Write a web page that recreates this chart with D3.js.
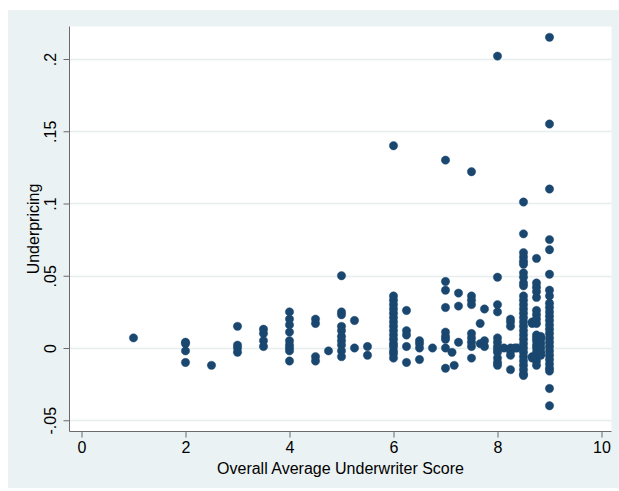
<!DOCTYPE html>
<html>
<head>
<meta charset="utf-8">
<script src="https://cdn.jsdelivr.net/npm/d3@7"></script>
<style>
  html, body { margin: 0; padding: 0; background: #ffffff; }
  svg { display: block; }
  text { font-family: "Liberation Sans", Arial, Helvetica, sans-serif; fill: #000; }
</style>
</head>
<body>
<svg id="chart" width="619" height="491"></svg>
<script>
// ---- data ----
const scores = [1, 2, 2.5, 3, 3.5, 4, 4.5, 4.75, 5, 5.25, 5.5, 6, 6.25, 6.5, 6.75,
                7, 7.125, 7.167, 7.25, 7.5, 7.667, 7.75, 8, 8.125, 8.25, 8.333, 8.375,
                8.5, 8.667, 8.75, 8.833, 9];
const underpricing = [
  [0.007],
  [0.004, 0.003, -0.002, -0.010],
  [-0.012],
  [0.015, 0.002, 0.000, -0.003],
  [0.013, 0.010, 0.005, 0.001],
  [0.025, 0.020, 0.016, 0.011, 0.005, 0.002, 0.000, -0.002, -0.009],
  [0.020, 0.017, -0.006, -0.009],
  [-0.002],
  [0.050, 0.025, 0.023, 0.015, 0.012, 0.008, 0.005, 0.002, -0.002, -0.006],
  [0.019, 0.000],
  [0.001, -0.005],
  [0.140, 0.036, 0.033, 0.030, 0.027, 0.024, 0.021, 0.018, 0.015, 0.012, 0.009, 0.006, 0.003, 0.001, -0.002, -0.004, -0.007],
  [0.026, 0.012, 0.009, 0.001, -0.010],
  [0.005, 0.003, 0.000, -0.008],
  [0.000],
  [0.130, 0.046, 0.040, 0.028, 0.011, 0.008, 0.006, 0.000, -0.014],
  [-0.003],
  [-0.012],
  [0.038, 0.029, 0.004],
  [0.122, 0.036, 0.033, 0.030, 0.010, 0.007, 0.004, 0.001, -0.007],
  [0.017, 0.003],
  [0.027, 0.005, 0.001],
  [0.202, 0.049, 0.030, 0.025, 0.007, 0.004, 0.001, -0.001, -0.003, -0.007, -0.010, -0.012],
  [0.000],
  [0.020, 0.018, 0.015, 0.000, -0.002, -0.005, -0.015],
  [0.000],
  [0.000],
  [0.101, 0.079, 0.066, 0.063, 0.060, 0.058, 0.052, 0.049, 0.045, 0.043, 0.036, 0.033, 0.030, 0.027,
   0.024, 0.021, 0.018, 0.015, 0.012, 0.009, 0.006, 0.003, 0.000, -0.003, -0.006, -0.009, -0.012,
   -0.015, -0.018, -0.019],
  [0.018, 0.017, -0.006, -0.007],
  [0.062, 0.045, 0.042, 0.039, 0.035, 0.026, 0.023, 0.020, 0.017, 0.009, 0.007, 0.005, 0.002, 0.000,
   -0.003, -0.006, -0.009, -0.012],
  [0.008, 0.006, 0.003, 0.000, -0.003, -0.005],
  [0.215, 0.155, 0.110, 0.075, 0.068, 0.051, 0.040, 0.036, 0.031, 0.028, 0.025, 0.022, 0.019, 0.016,
   0.013, 0.010, 0.007, 0.004, 0.001, -0.002, -0.005, -0.008, -0.011, -0.014, -0.016, -0.028, -0.040]
];
const xTicks = [0, 2, 4, 6, 8, 10];
const yTicks = [-0.05, 0, 0.05, 0.1, 0.15, 0.2];
const yTickLabels = ["-.05", "0", ".05", ".1", ".15", ".2"];
const xTitle = "Overall Average Underwriter Score";
const yTitle = "Underpricing";

// ---- layout ----
const W = 619, H = 491;
const plot = { left: 69.5, right: 611.5, top: 26.5, bottom: 431.5 };
const navy = "#1a476f";
const axisCol = "#6b6b6b";
const gridCol = "#e6eef0";
const fontSize = 16;

const svg = d3.select("#chart");

// outer graph region
svg.append("rect").attr("x", 8).attr("y", 10).attr("width", W - 8).attr("height", 478)
  .attr("fill", "#eaf2f3");
// plot region
svg.append("rect").attr("x", plot.left).attr("y", plot.top)
  .attr("width", plot.right - plot.left).attr("height", plot.bottom - plot.top)
  .attr("fill", "#ffffff");

const x = d3.scaleLinear().domain([0, 10]).range([81.5, 601.5]);
const y = d3.scaleLinear().domain([-0.05, 0.2]).range([420.25, 59]);

// grid lines
svg.append("g").selectAll("line").data(yTicks).join("line")
  .attr("x1", plot.left).attr("x2", plot.right)
  .attr("y1", d => Math.round(y(d)) + 0.5).attr("y2", d => Math.round(y(d)) + 0.5)
  .attr("stroke", gridCol).attr("stroke-width", 1.3);

// x axis
const xAxis = svg.append("g").attr("transform", `translate(0,${plot.bottom})`)
  .call(d3.axisBottom(x).tickValues(xTicks).tickSize(6).tickPadding(4).tickFormat(d3.format("d")));
xAxis.select(".domain").attr("d", `M${plot.left},0H${plot.right}`).attr("stroke", axisCol);
xAxis.selectAll(".tick line").attr("stroke", axisCol);
xAxis.selectAll(".tick text").attr("font-size", fontSize).attr("fill", "#000")
  .attr("font-family", "Liberation Sans, Arial, sans-serif");

// y axis
const yAxis = svg.append("g").attr("transform", `translate(${plot.left},0)`)
  .call(d3.axisLeft(y).tickValues(yTicks).tickSize(6).tickPadding(0)
    .tickFormat((d, i) => yTickLabels[i]));
yAxis.select(".domain").attr("d", `M0,${plot.top}V${plot.bottom}`).attr("stroke", axisCol);
yAxis.selectAll(".tick line").attr("stroke", axisCol);
yAxis.selectAll(".tick text")
  .attr("font-size", fontSize).attr("fill", "#000")
  .attr("font-family", "Liberation Sans, Arial, sans-serif")
  .attr("x", 0).attr("dy", null)
  .attr("text-anchor", "middle")
  .attr("transform", "translate(-14,0) rotate(-90)");

// titles
svg.append("text").attr("x", (plot.left + plot.right) / 2).attr("y", 474)
  .attr("text-anchor", "middle").attr("font-size", fontSize).text(xTitle);
svg.append("text").attr("transform", `translate(39,${(plot.top + plot.bottom) / 2}) rotate(-90)`)
  .attr("text-anchor", "middle").attr("font-size", fontSize).text(yTitle);

// points
const pts = [];
scores.forEach((s, i) => underpricing[i].forEach(v => pts.push({ s, v })));
svg.append("g").selectAll("circle").data(pts).join("circle")
  .attr("cx", d => x(d.s)).attr("cy", d => y(d.v)).attr("r", 4.2)
  .attr("fill", navy).attr("stroke", navy).attr("stroke-width", 0.4);
</script>
</body>
</html>
